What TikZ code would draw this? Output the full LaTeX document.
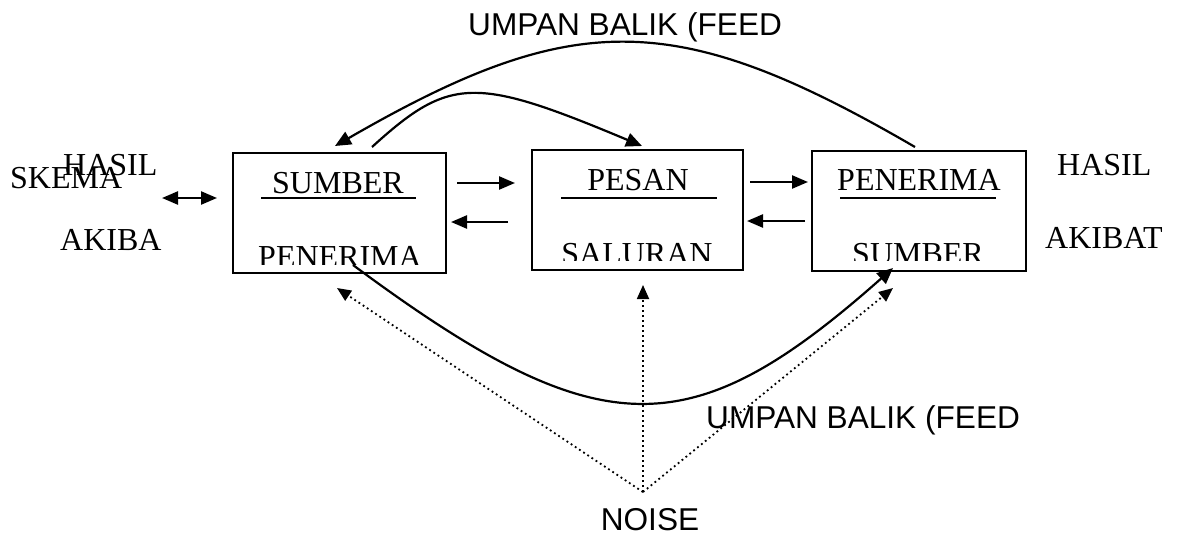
\documentclass[tikz,border=0pt]{standalone}
\usepackage{fontspec}
\setmainfont{Liberation Serif}
\newfontfamily\sansLabel{Liberation Sans}
\usetikzlibrary{arrows.meta}

\begin{document}
\begin{tikzpicture}[x=1pt,y=-1pt,%%
  boxStyle/.style={draw,line width=1.6pt,inner sep=0pt,minimum height=120pt},%%
  serifStyle/.style={anchor=base,inner sep=0pt,font=\fontsize{32}{38}\selectfont},%%
  sansStyle/.style={anchor=base,inner sep=0pt,font=\sansLabel\fontsize{31.6}{37}\selectfont},%%
  arrowStyle/.style={-{Triangle[length=16pt,width=13pt]},line width=2.4pt},%%
  bothStyle/.style={{Triangle[length=16pt,width=13pt]}-{Triangle[length=16pt,width=13pt]},line width=2.4pt},%%
  curveStyle/.style={-{Triangle[length=16pt,width=14pt]},line width=2.2pt},%%
  noiseStyle/.style={-{Triangle[length=14pt,width=12pt]},line width=1.8pt,dash pattern=on 1.8pt off 3.2pt},%%
  lineStyle/.style={-,line width=1.6pt}%%
]
%%
\useasboundingbox (0,0) rectangle (1179,536);
%%
%% The three boxes.
\node[boxStyle,minimum width=213pt] (sumberBox) at (339.5,213) {};
\node[boxStyle,minimum width=211pt] (pesanBox) at (637.5,210) {};
\node[boxStyle,minimum width=214pt] (penerimaBox) at (919,211) {};
%%
%% Upper texts and their rules.
\node[serifStyle] (sumberTop) at (338,193) {SUMBER};
\node[serifStyle] (pesanTop) at (638,190) {PESAN};
\node[serifStyle] (penerimaTop) at (919,190) {PENERIMA};
\draw[lineStyle] (261,198) -- (416,198);
\draw[lineStyle] (561,198) -- (717,198);
\draw[lineStyle] (840,198) -- (996,198);
%%
%% Lower texts, cut off at the bottom.
\begin{scope}
  \clip (233,150) rectangle (446,264) (532,150) rectangle (1026,260);
  \node[serifStyle] (sumberLow) at (340,267) {PENERIMA};
  \node[serifStyle] (pesanLow) at (637,264) {SALURAN};
  \node[serifStyle] (penerimaLow) at (918,264) {SUMBER};
\end{scope}
%%
%% Side labels.
\node[serifStyle,anchor=base west] (skema) at (10,188) {SKEMA};
\node[serifStyle,anchor=base west] (hasilLeft) at (63,175) {HASIL};
\node[serifStyle,anchor=base west] (akibaLeft) at (60,250) {AKIBA};
\node[serifStyle,anchor=base west] (hasilRight) at (1057,175) {HASIL};
\node[serifStyle,anchor=base west] (akibatRight) at (1045,248) {AKIBAT};
%%
%% Sans labels.
\node[sansStyle,anchor=base west] (feedTop) at (468,35) {UMPAN BALIK (FEED};
\node[sansStyle,anchor=base west] (feedLow) at (706,428) {UMPAN BALIK (FEED};
\node[sansStyle] (noise) at (650,530) {NOISE};
%%
%% Straight arrows.
\coordinate (leftA) at (162,198);
\coordinate (leftB) at (217,198);
\coordinate (oneRight) at (457,183);
\coordinate (twoRight) at (515,183);
\coordinate (twoLeft) at (508,222);
\coordinate (oneLeft) at (451,222);
\coordinate (twoRightB) at (750,182);
\coordinate (threeRight) at (808,182);
\coordinate (threeLeft) at (805,221);
\coordinate (twoLeftB) at (747,221);
\draw[bothStyle] (leftA) -- (leftB);
\draw[arrowStyle] (oneRight) -- (twoRight);
\draw[arrowStyle] (twoLeft) -- (oneLeft);
\draw[arrowStyle] (twoRightB) -- (threeRight);
\draw[arrowStyle] (threeLeft) -- (twoLeftB);
%%
%% Feedback curves.
\coordinate (bigStart) at (915,147);
\coordinate (bigEnd) at (335,146);
\coordinate (smallStart) at (372,147);
\coordinate (smallEnd) at (642,146);
\coordinate (lowStart) at (353,265);
\coordinate (lowEnd) at (893,268);
\draw[curveStyle] (bigStart) .. controls (676,8) and (574,8) .. (bigEnd);
\draw[curveStyle] (smallStart) .. controls (450,76) and (475,76) .. (smallEnd);
\draw[curveStyle] (lowStart) .. controls (600,448) and (690,448) .. (lowEnd);
%%
%% Noise arrows.
\coordinate (noiseFoot) at (643,492);
\coordinate (noiseLeft) at (337,288);
\coordinate (noiseUp) at (643,285);
\coordinate (noiseRight) at (893,288);
\draw[noiseStyle] (noiseFoot) -- (noiseLeft);
\draw[noiseStyle] (noiseFoot) -- (noiseUp);
\draw[noiseStyle] (noiseFoot) -- (noiseRight);
\end{tikzpicture}
\end{document}
